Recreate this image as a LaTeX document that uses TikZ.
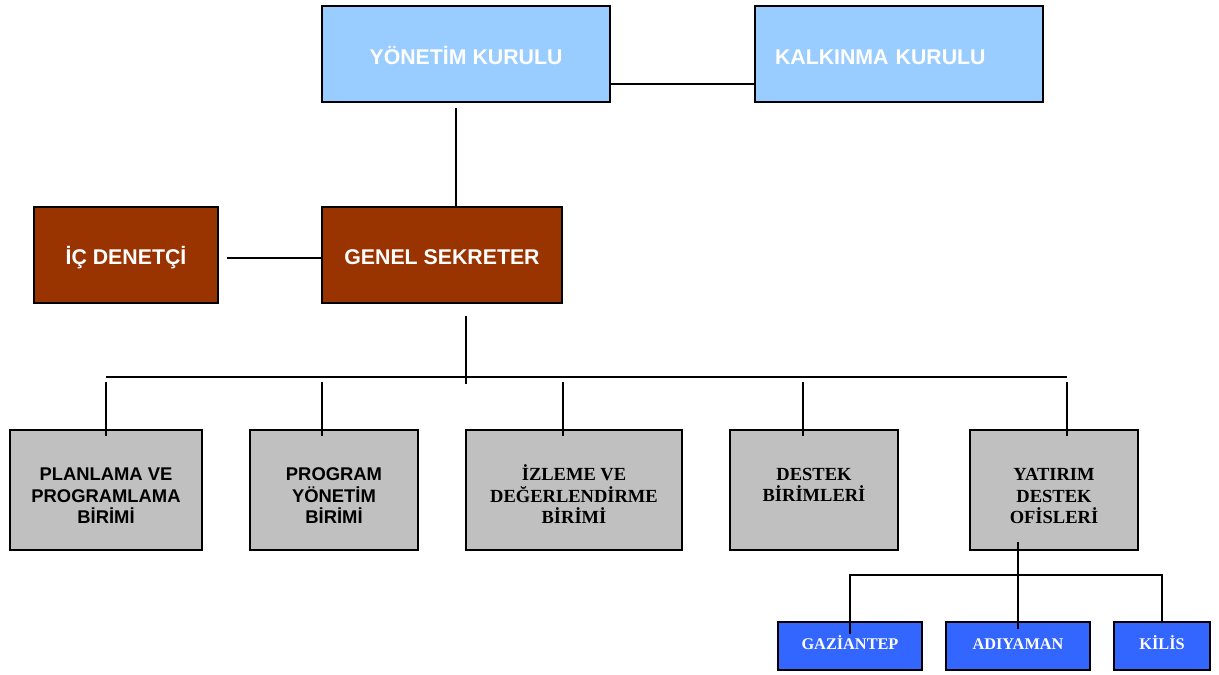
\documentclass[tikz,border=0pt]{standalone}
\usepackage{fontspec}
\setmainfont{Liberation Serif}
\newfontfamily\arialfont{Liberation Sans}
\usepackage{tikz}
\usetikzlibrary{positioning}
\definecolor{kurulblue}{HTML}{99CCFF}
\definecolor{sekbrown}{HTML}{993300}
\definecolor{birimgray}{HTML}{C0C0C0}
\definecolor{ofisblue}{HTML}{3366FF}
\tikzstyle{kurul} = [rectangle, draw=black, line width=1.6pt, fill=kurulblue, minimum width=288pt, minimum height=96pt, inner sep=0pt, text height=24pt, text depth=4pt, text=white, font=\arialfont\bfseries\fontsize{21.3}{24}\selectfont]
\tikzstyle{sekreter} = [rectangle, draw=black, line width=1.6pt, fill=sekbrown, minimum height=96pt, inner sep=0pt, text height=23pt, text depth=4pt, text=white, font=\arialfont\bfseries\fontsize{21.3}{24}\selectfont]
\tikzstyle{birim} = [rectangle, draw=black, line width=1.6pt, fill=birimgray, minimum height=120pt, inner sep=0pt, text height=67pt, text depth=0pt, align=center, font=\arialfont\bfseries\fontsize{18.4}{21.5}\selectfont]
\tikzstyle{birimtr} = [birim, font=\bfseries\fontsize{18.5}{21.5}\selectfont]
\tikzstyle{ofis} = [rectangle, draw=black, line width=1.6pt, fill=ofisblue, minimum height=48pt, inner sep=0pt, text height=10pt, text depth=4pt, text=white, font=\bfseries\fontsize{16.3}{20}\selectfont]
\tikzstyle{line} = [line width=1.5pt]
\begin{document}
\begin{tikzpicture}[x=1pt, y=-1pt]
        \useasboundingbox (0,0) rectangle (1219,675);

        \node (yonetim) [kurul] at (466,54) {YÖNETİM KURULU};
        \node (kalkinma) [kurul, text width=248pt, inner xsep=20pt, align=left] at (899,54) {KALKINMA KURULU};
        \node (ic) [sekreter, minimum width=184pt] at (126,255) {İÇ DENETÇİ};
        \node (genel) [sekreter, minimum width=240pt] at (442,255) {GENEL SEKRETER};

        \node (planlama) [birim, minimum width=192pt] at (106,490) {PLANLAMA VE\\PROGRAMLAMA\\BİRİMİ};
        \node (program) [birim, minimum width=168pt] at (334,490) {PROGRAM\\YÖNETİM\\BİRİMİ};
        \node (izleme) [birimtr, minimum width=216pt] at (574,490) {İZLEME VE\\DEĞERLENDİRME\\BİRİMİ};
        \node (destek) [birimtr, minimum width=168pt, text height=23pt] at (814,490) {DESTEK\\BİRİMLERİ};
        \node (yatirim) [birimtr, minimum width=168pt] at (1054,490) {YATIRIM\\DESTEK\\OFİSLERİ};

        \node (gaziantep) [ofis, minimum width=144pt] at (850,646) {GAZİANTEP};
        \node (adiyaman) [ofis, minimum width=144pt] at (1018,646) {ADIYAMAN};
        \node (kilis) [ofis, minimum width=96pt] at (1162,646) {KİLİS};

        \coordinate (busl) at (106,377);
        \coordinate (busr) at (1067,377);

        \draw [line] ([yshift=19pt]yonetim.south east) -- ([yshift=19pt]kalkinma.south west);
        \draw [line] ([xshift=-10pt,yshift=-5pt]yonetim.south) -- ([xshift=14pt]genel.north);
        \draw [line] ([xshift=8pt,yshift=-3pt]ic.east) -- ([yshift=-3pt]genel.west);
        \draw [line] ([xshift=24pt,yshift=-12pt]genel.south) -- ++(0,68);
        \draw [line] (busl) -- (busr);
        \foreach \b/\dx in {planlama/0, program/-12, izleme/-11, destek/-11, yatirim/13}
            \draw [line] ([xshift=\dx pt,yshift=-7pt]\b.north) -- ++(0,-54);

        \draw [line] ([xshift=-36pt,yshift=9pt]yatirim.south) -- ([yshift=-8pt]adiyaman.north);
        \draw [line] ([yshift=-13pt]gaziantep.north) |- ([yshift=46pt]kilis.north) -- (kilis.north);

      \end{tikzpicture}
\end{document}
